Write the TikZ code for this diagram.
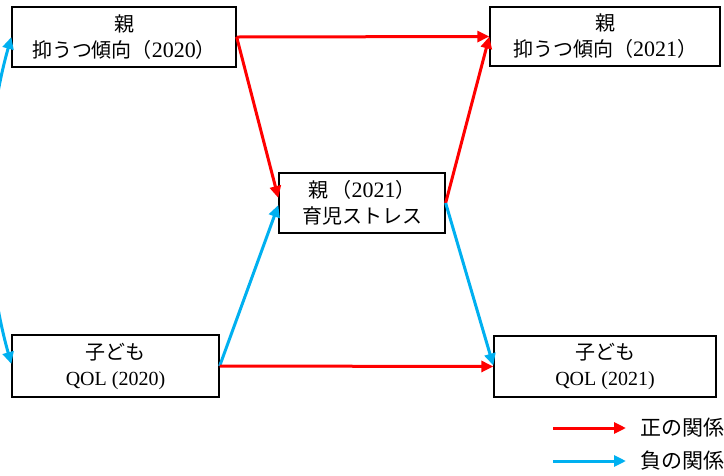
\documentclass[tikz,border=0pt]{standalone}
\usepackage{fontspec}
\setmainfont{Liberation Serif}
\newfontfamily\jp{Noto Sans CJK JP}
\usetikzlibrary{arrows.meta,calc}
\newcommand\jt[1]{{\jp\fontsize{20}{26}\selectfont #1}}
\newcommand\lt[1]{{\fontsize{22}{26}\selectfont #1}}
\newcommand\qt[1]{{\fontsize{20}{26}\selectfont #1}}
\definecolor{posred}{HTML}{FF0000}
\definecolor{negblue}{HTML}{00B0F0}
\begin{document}
\begin{tikzpicture}[x=1pt,y=-1pt,
  box/.style n args={2}{draw=black,line width=1.3pt,minimum width=#1,minimum height=#2,inner sep=0pt,align=center,font=\fontsize{20}{26}\selectfont},
  posarrow/.style={draw=posred,line width=3pt,-{Triangle[length=12pt,width=11pt]}},
  negarrow/.style={draw=negblue,line width=3pt,-{Triangle[length=12pt,width=11pt]}},
  negboth/.style={draw=negblue,line width=3pt,{Triangle[length=12pt,width=11pt]}-{Triangle[length=12pt,width=11pt]}},
  legtext/.style={anchor=west,inner sep=0pt,font=\jp\fontsize{21}{24}\selectfont}]
\useasboundingbox (0,0) rectangle (724,475);

\node[box={224pt}{60pt}] (TL) at (124,37) {\jt{親}\\\jt{抑うつ傾向（}\lt{2020}\jt{）}};
\node[box={230pt}{59pt}] (TR) at (605,36.5) {\jt{親}\\\jt{抑うつ傾向（}\lt{2021}\jt{）}};
\node[box={166pt}{60pt}] (M) at (362,203) {\jt{親\,（}\lt{2021}\jt{）}\\\jt{育児ストレス}};
\node[box={207pt}{62pt}] (BL) at (115.5,366) {\jt{子ども}\\\qt{QOL (2020)}};
\node[box={222pt}{61pt}] (BR) at (605,366.5) {\jt{子ども}\\\qt{QOL (2021)}};

\draw[posarrow] (TL.east) -- (TR.west);
\draw[posarrow] (TL.east) -- ($(M.west)+(0,-5)$);
\draw[negarrow] (BL.east) -- ($(M.west)+(0,2)$);
\draw[posarrow] (M.east) -- (TR.west);
\draw[negarrow] (M.east) -- ($(BR.west)+(0,-1)$);
\draw[posarrow] (BL.east) -- (BR.west);
\draw[negboth] ($(BL.west)+(0,-2)$) .. controls (-18,260) and (-18,140) .. (TL.west);

\coordinate (L1a) at (553,428);
\coordinate (L1b) at (626,428);
\coordinate (L2a) at (553,461);
\coordinate (L2b) at (626,461);
\draw[posarrow] (L1a) -- (L1b);
\draw[negarrow] (L2a) -- (L2b);
\node[legtext] (T1) at (640,428) {正の関係};
\node[legtext] (T2) at (640,461) {負の関係};
\end{tikzpicture}
\end{document}
